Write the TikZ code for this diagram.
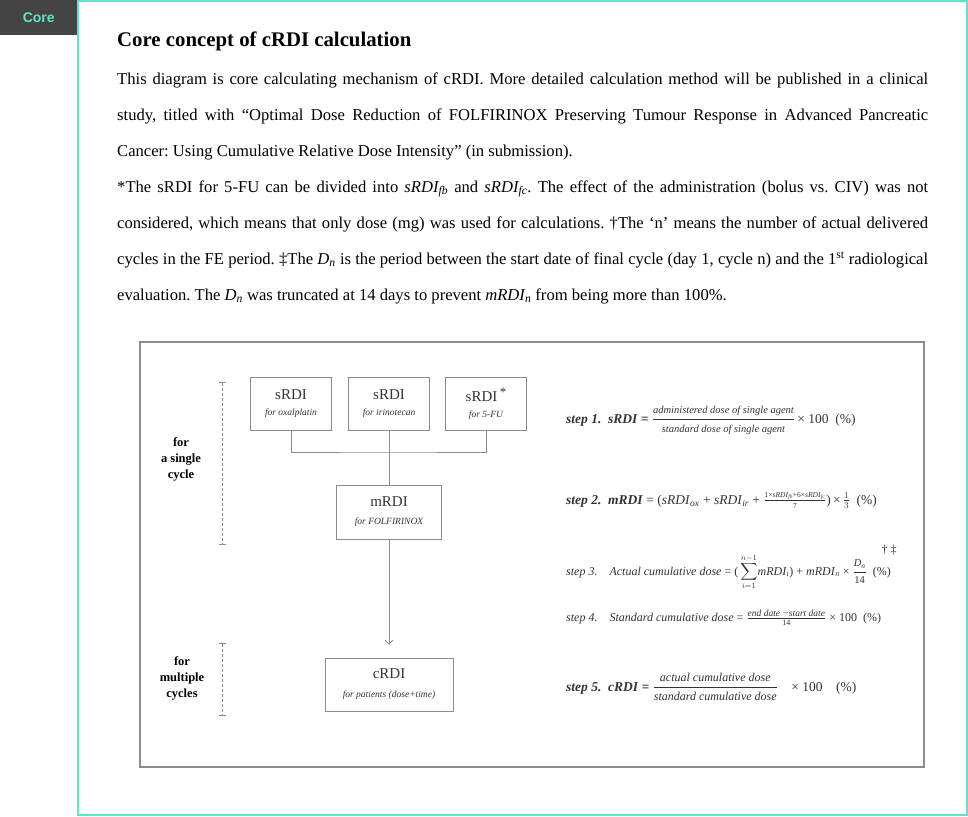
\documentclass[tikz,border=0pt]{standalone}
\usepackage{amsmath, amssymb}
\usepackage{fontspec}
\setmainfont{Liberation Serif}
\newfontfamily\tabfont{Liberation Sans}
\usepackage{tikz}
\usetikzlibrary{arrows.meta, positioning, calc}
\definecolor{CoreTeal}{HTML}{62E3C9}
\definecolor{TabGray}{HTML}{444444}
\definecolor{FrameGray}{HTML}{8C8C8C}
\definecolor{InkGray}{HTML}{333333}
\frenchspacing

\begin{document}
\begin{tikzpicture}[x=1pt, y=-1pt, every node/.style={font=\small},
  agentbox/.style={draw=FrameGray, line width=0.8pt, minimum width=81pt, minimum height=53pt,
    inner sep=0pt, align=center, text=InkGray, font=\fontsize{15}{17}\selectfont},
  cyclebar/.style={draw=FrameGray, densely dashed, line width=0.7pt, {Bar[width=7pt]}-{Bar[width=7pt]}},
  cyclelabel/.style={align=center, font=\bfseries\fontsize{12.5}{16}\selectfont, text=black},
  stepeq/.style={anchor=base west, inner sep=0pt, text=InkGray, font=\fontsize{13.5}{15}\selectfont},
  stepeqsmall/.style={stepeq, font=\fontsize{12}{14}\selectfont}]
  \useasboundingbox (0,0) rectangle (968,816);
  \draw[CoreTeal, line width=1.7pt] (77.8,0.85) rectangle (967,815.1);
  \node[fill=TabGray, anchor=north west, minimum width=77pt, minimum height=35pt, inner sep=0pt,
    text=CoreTeal, font=\tabfont\bfseries\fontsize{14}{14}\selectfont] (tab) at (0,0) {Core};

  \node[anchor=base west, inner sep=0pt, font=\bfseries\fontsize{20.8}{22}\selectfont] (title) at (117,47)
    {Core concept of cRDI calculation};
  \node[anchor=north west, inner sep=0pt, text width=811pt, align=justify,
    font=\fontsize{16.6}{36}\selectfont] (body) at (117,72.5) {%
    This diagram is core calculating mechanism of cRDI. More detailed calculation method will be published in a clinical\linebreak
    study, titled with “Optimal Dose Reduction of FOLFIRINOX Preserving Tumour Response in Advanced Pancreatic\linebreak
    Cancer: Using Cumulative Relative Dose Intensity” (in submission).\par
    *The sRDI for 5-FU can be divided into $\textit{sRDI}_{\textit{fb}}$ and $\textit{sRDI}_{\textit{fc}}$. The effect of the administration (bolus vs. CIV) was not\linebreak
    considered, which means that only dose (mg) was used for calculations. †The ‘n’ means the number of actual delivered\linebreak
    cycles in the FE period. ‡The $\textit{D}_{\textit{n}}$ is the period between the start date of final cycle (day 1, cycle n) and the 1\textsuperscript{st} radiological\linebreak
    evaluation. The $\textit{D}_{\textit{n}}$ was truncated at 14 days to prevent $\textit{mRDI}_{\textit{n}}$ from being more than 100\%.};

  \draw[FrameGray, line width=1.3pt] (140,342) rectangle (924,767);

  \node[agentbox] (ox) at (291,403.5) {sRDI\\[-1pt]{\fontsize{9.5}{11}\selectfont\itshape for oxalplatin}};
  \node[agentbox] (ir) at (389,403.5) {sRDI\\[-1pt]{\fontsize{9.5}{11}\selectfont\itshape for irinotecan}};
  \node[agentbox] (fu) at (486,403.5) {sRDI\,\raisebox{5pt}{\fontsize{13}{13}\selectfont *}\\[-1pt]{\fontsize{9.5}{11}\selectfont\itshape for 5-FU}};
  \node[agentbox, minimum width=105pt, minimum height=54pt] (m) at (389,512)
    {mRDI\\[1pt]{\fontsize{9.5}{11}\selectfont\itshape for FOLFIRINOX}};
  \node[agentbox, minimum width=128pt] (c) at (389,684.5)
    {cRDI\\[2pt]{\fontsize{9.5}{11}\selectfont\itshape for patients (dose+time)}};

  \coordinate (join) at (389,452);
  \draw[FrameGray, line width=0.8pt] (ox.south) |- (join) -| (fu.south);
  \draw[FrameGray, line width=0.8pt] (ir.south) -- (m.north);
  \draw[FrameGray, line width=0.8pt, -{Straight Barb[length=4pt, width=8pt]}, shorten >=13pt] (m.south) -- (c.north);

  \coordinate (single top) at (222,382);
  \coordinate (single bottom) at (222,545);
  \coordinate (multi top) at (222,643);
  \coordinate (multi bottom) at (222,716);
  \draw[cyclebar] (single top) -- (single bottom);
  \draw[cyclebar] (multi top) -- (multi bottom);
  \node[cyclelabel] (single) at (181,459) {for\\a single\\cycle};
  \node[cyclelabel] (multi) at (182,678) {for\\multiple\\cycles};

  \node[stepeq] (eq1) at (566,423) {\textbf{\textit{step 1.\enspace sRDI =}}
    $\dfrac{\text{\fontsize{10.5}{11}\selectfont\itshape administered dose of single agent}}
           {\text{\fontsize{10.5}{11}\selectfont\itshape standard dose of single agent}}$\,× 100\enspace(\%)};
  \node[stepeq] (eq2) at (566,504) {\textbf{\textit{step 2.\enspace mRDI}} = (\textit{sRDI}$_{\textit{ox}}$ + \textit{sRDI}$_{\textit{ir}}$ +
    $\frac{\text{\fontsize{7.5}{8}\selectfont 1×\textit{sRDI}$_{\textit{fb}}$+6×\textit{sRDI}$_{\textit{fc}}$}}{\text{\fontsize{7.5}{8}\selectfont 7}}$)\,×\,$\frac{1}{3}$\enspace(\%)};
  \node[stepeqsmall] (eq3) at (566,575) {\textit{step 3.}\quad\textit{Actual cumulative dose} = (\,$\displaystyle\sum_{i=1}^{n-1}$\textit{mRDI}$_{\textit{i}}$)
    + \textit{mRDI}$_{\textit{n}}$ × $\dfrac{\text{\fontsize{10.5}{11}\selectfont\itshape D$_{\textit{n}}$}}{\text{\fontsize{10.5}{11}\selectfont 14}}$\enspace(\%)};
  \node[anchor=base, inner sep=0pt, text=InkGray, font=\fontsize{12}{12}\selectfont] (marks) at (889,553) {† ‡};
  \node[stepeqsmall] (eq4) at (566,621) {\textit{step 4.}\quad\textit{Standard cumulative dose} =
    $\frac{\text{\fontsize{9.5}{10}\selectfont\itshape end date −start date}}{\text{\fontsize{8}{9}\selectfont 14}}$ × 100\enspace(\%)};
  \node[stepeq] (eq5) at (566,691) {\textbf{\textit{step 5.\enspace cRDI =}}
    $\dfrac{\text{\fontsize{12}{12}\selectfont\itshape actual cumulative dose}}
           {\text{\fontsize{12}{12}\selectfont\itshape standard cumulative dose}}$\quad× 100\quad(\%)};
\end{tikzpicture}
\end{document}
